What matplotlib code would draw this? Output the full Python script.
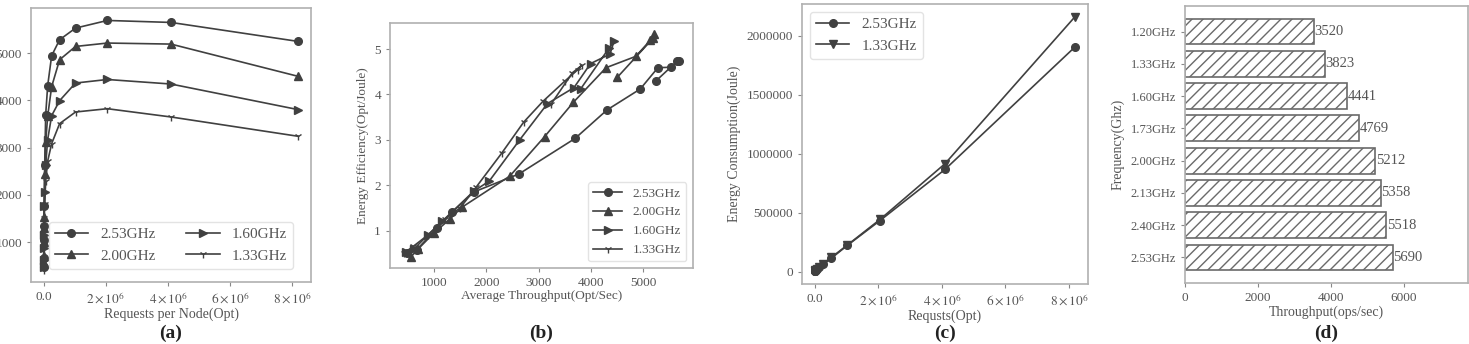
import numpy as np
import matplotlib
matplotlib.use("Agg")
import matplotlib.pyplot as plt
from matplotlib.ticker import FuncFormatter

plt.rcParams['font.family'] = ['Liberation Serif', 'DejaVu Serif']
plt.rcParams['mathtext.fontset'] = 'stix'
plt.rcParams['hatch.color'] = '#6a6a6a'
plt.rcParams['hatch.linewidth'] = 1.0

# requests per node (same for every frequency)
requests = [1000, 2000, 4000, 8000, 16000, 32000, 64000, 128000,
            256000, 512000, 1024000, 2048000, 4096000, 8192000]

# throughput (ops/sec) per frequency
thr_253 = [480, 670, 1050, 1340, 1760, 2627, 3697, 4310, 4944, 5282, 5528, 5690, 5648, 5246]
thr_200 = [556, 700, 1000, 1300, 1528, 2448, 3114, 3667, 4290, 4859, 5140, 5212, 5190, 4507]
thr_160 = [470, 620, 880, 1150, 1762, 2055, 2638, 3170, 3676, 3993, 4366, 4441, 4345, 3803]
thr_133 = [420, 600, 880, 1200, 1500, 1800, 2290, 2714, 3084, 3507, 3753, 3823, 3648, 3239]

# energy efficiency (ops/joule)
eff_253 = [0.5, 0.58, 1.05, 1.4, 1.85, 2.25, 3.03, 3.66, 4.12, 4.59, 4.60, 4.74, 4.73, 4.30]
eff_200 = [0.42, 0.6, 0.95, 1.25, 1.51, 2.2, 3.07, 3.83, 4.59, 4.84, 5.2, 5.33, 5.24, 4.38]
eff_160 = [0.52, 0.6, 0.9, 1.2, 1.87, 2.09, 3.0, 3.8, 4.15, 4.68, 4.89, 5.17, 5.02, 4.12]
eff_133 = [0.5, 0.65, 0.9, 1.25, 1.5, 1.95, 2.7, 3.39, 3.85, 4.3, 4.55, 4.64, 4.48, 3.79]

# energy consumption (joule)
energy_253 = [2000, 3450, 3810, 5710, 8650, 14220, 21120, 34970, 62140,
              111550, 222610, 432070, 865960, 1905120]
energy_133 = [2000, 3080, 4440, 6400, 10670, 16410, 23700, 37760, 66490,
              119070, 225060, 441380, 914290, 2161480]

# max throughput per frequency
freqs = ['2.53GHz', '2.40GHz', '2.13GHz', '2.00GHz', '1.73GHz', '1.60GHz', '1.33GHz', '1.20GHz']
max_thr = [5690, 5518, 5358, 5212, 4769, 4441, 3823, 3520]

W, H = 1469, 344
LINE = '#404040'
TXT = '#555555'
SPINE = '#b0b0b0'

fig = plt.figure(figsize=(W / 100, H / 100), dpi=100)


def box(l, r, t, b):
    return [l / W, (H - b) / H, (r - l) / W, (b - t) / H]


def style(ax):
    for s in ax.spines.values():
        s.set_color(SPINE)
        s.set_linewidth(1.2)
    ax.tick_params(length=3, width=0.8, color='#888888', labelcolor=TXT, labelsize=9.5)


def sci(v, pos):
    if v == 0:
        return '0.0'
    return r'$%d\times10^{6}$' % round(v / 1e6)


lkw = dict(color=LINE, lw=1.2)

# (a)
ax1 = fig.add_axes(box(31, 311, 8, 282))
ax1.plot(requests, thr_253, marker='o', ms=5.5, label='2.53GHz', **lkw)
ax1.plot(requests, thr_200, marker='^', ms=5.5, label='2.00GHz', **lkw)
ax1.plot(requests, thr_160, marker='>', ms=5.5, label='1.60GHz', **lkw)
ax1.plot(requests, thr_133, marker='1', ms=6, label='1.33GHz', **lkw)
ax1.set_xticks([0, 2e6, 4e6, 6e6, 8e6])
ax1.xaxis.set_major_formatter(FuncFormatter(sci))
ax1.set_yticks([1000, 2000, 3000, 4000, 5000])
ax1.set_xlabel('Requests per Node(Opt)', color=TXT, fontsize=10, labelpad=1)
ax1.legend(loc='lower center', ncol=2, fontsize=11, labelcolor=TXT,
           edgecolor='#dddddd', columnspacing=2.0, handlelength=2.2,
           bbox_to_anchor=(0.5, 0.02))
style(ax1)

# (b)
ax2 = fig.add_axes(box(390, 693, 23, 268))
ax2.plot(thr_253, eff_253, marker='o', ms=5.5, label='2.53GHz', **lkw)
ax2.plot(thr_200, eff_200, marker='^', ms=5.5, label='2.00GHz', **lkw)
ax2.plot(thr_160, eff_160, marker='>', ms=5.5, label='1.60GHz', **lkw)
ax2.plot(thr_133, eff_133, marker='1', ms=6, label='1.33GHz', **lkw)
ax2.set_xticks([1000, 2000, 3000, 4000, 5000])
ax2.set_yticks([1, 2, 3, 4, 5])
ax2.set_xlabel('Average Throughput(Opt/Sec)', color=TXT, fontsize=9.5, labelpad=1)
ax2.set_ylabel('Energy Efficiency(Opt/Joule)', color=TXT, fontsize=9.5)
ax2.legend(loc='lower right', fontsize=9.5, labelcolor=TXT, edgecolor='#dddddd',
           handlelength=2.2)
style(ax2)

# (c)
ax3 = fig.add_axes(box(802, 1088, 4, 284))
ax3.plot(requests, energy_253, marker='o', ms=5.5, label='2.53GHz', **lkw)
ax3.plot(requests, energy_133, marker='v', ms=5.5, label='1.33GHz', **lkw)
ax3.set_xticks([0, 2e6, 4e6, 6e6, 8e6])
ax3.xaxis.set_major_formatter(FuncFormatter(sci))
ax3.set_yticks([0, 500000, 1000000, 1500000, 2000000])
ax3.yaxis.set_major_formatter(FuncFormatter(lambda v, p: '%d' % v))
ax3.set_xlabel('Requsts(Opt)', color=TXT, fontsize=10, labelpad=1)
ax3.set_ylabel('Energy Consumption(Joule)', color=TXT, fontsize=10)
ax3.legend(loc='upper left', fontsize=11, labelcolor=TXT, edgecolor='#dddddd',
           handlelength=2.2)
style(ax3)

# (d)
ax4 = fig.add_axes(box(1185, 1468, 6, 283))
ypos = np.arange(len(freqs))
ax4.barh(ypos, max_thr, height=0.8, color='white', edgecolor='#6a6a6a',
         linewidth=1.2, hatch='///')
for y, v in zip(ypos, max_thr):
    ax4.text(v + 20, y, str(v), va='center', ha='left', color=TXT, fontsize=10.5)
ax4.set_yticks(ypos)
ax4.set_yticklabels(freqs)
ax4.set_xticks([0, 2000, 4000, 6000])
ax4.set_xlim(0, 7750)
ax4.set_xlabel('Throughput(ops/sec)', color=TXT, fontsize=10, labelpad=1)
ax4.set_ylabel('Frequency(Ghz)', color=TXT, fontsize=10)
style(ax4)
ax4.tick_params(axis='y', labelsize=9)

for ax, lab in zip([ax1, ax2, ax3, ax4], ['(a)', '(b)', '(c)', '(d)']):
    p = ax.get_position()
    fig.text(p.x0 + p.width / 2, 0.03, lab, ha='center', va='center',
             fontsize=14, fontweight='bold', color='#222222')

fig.savefig('out.png', dpi=100)
